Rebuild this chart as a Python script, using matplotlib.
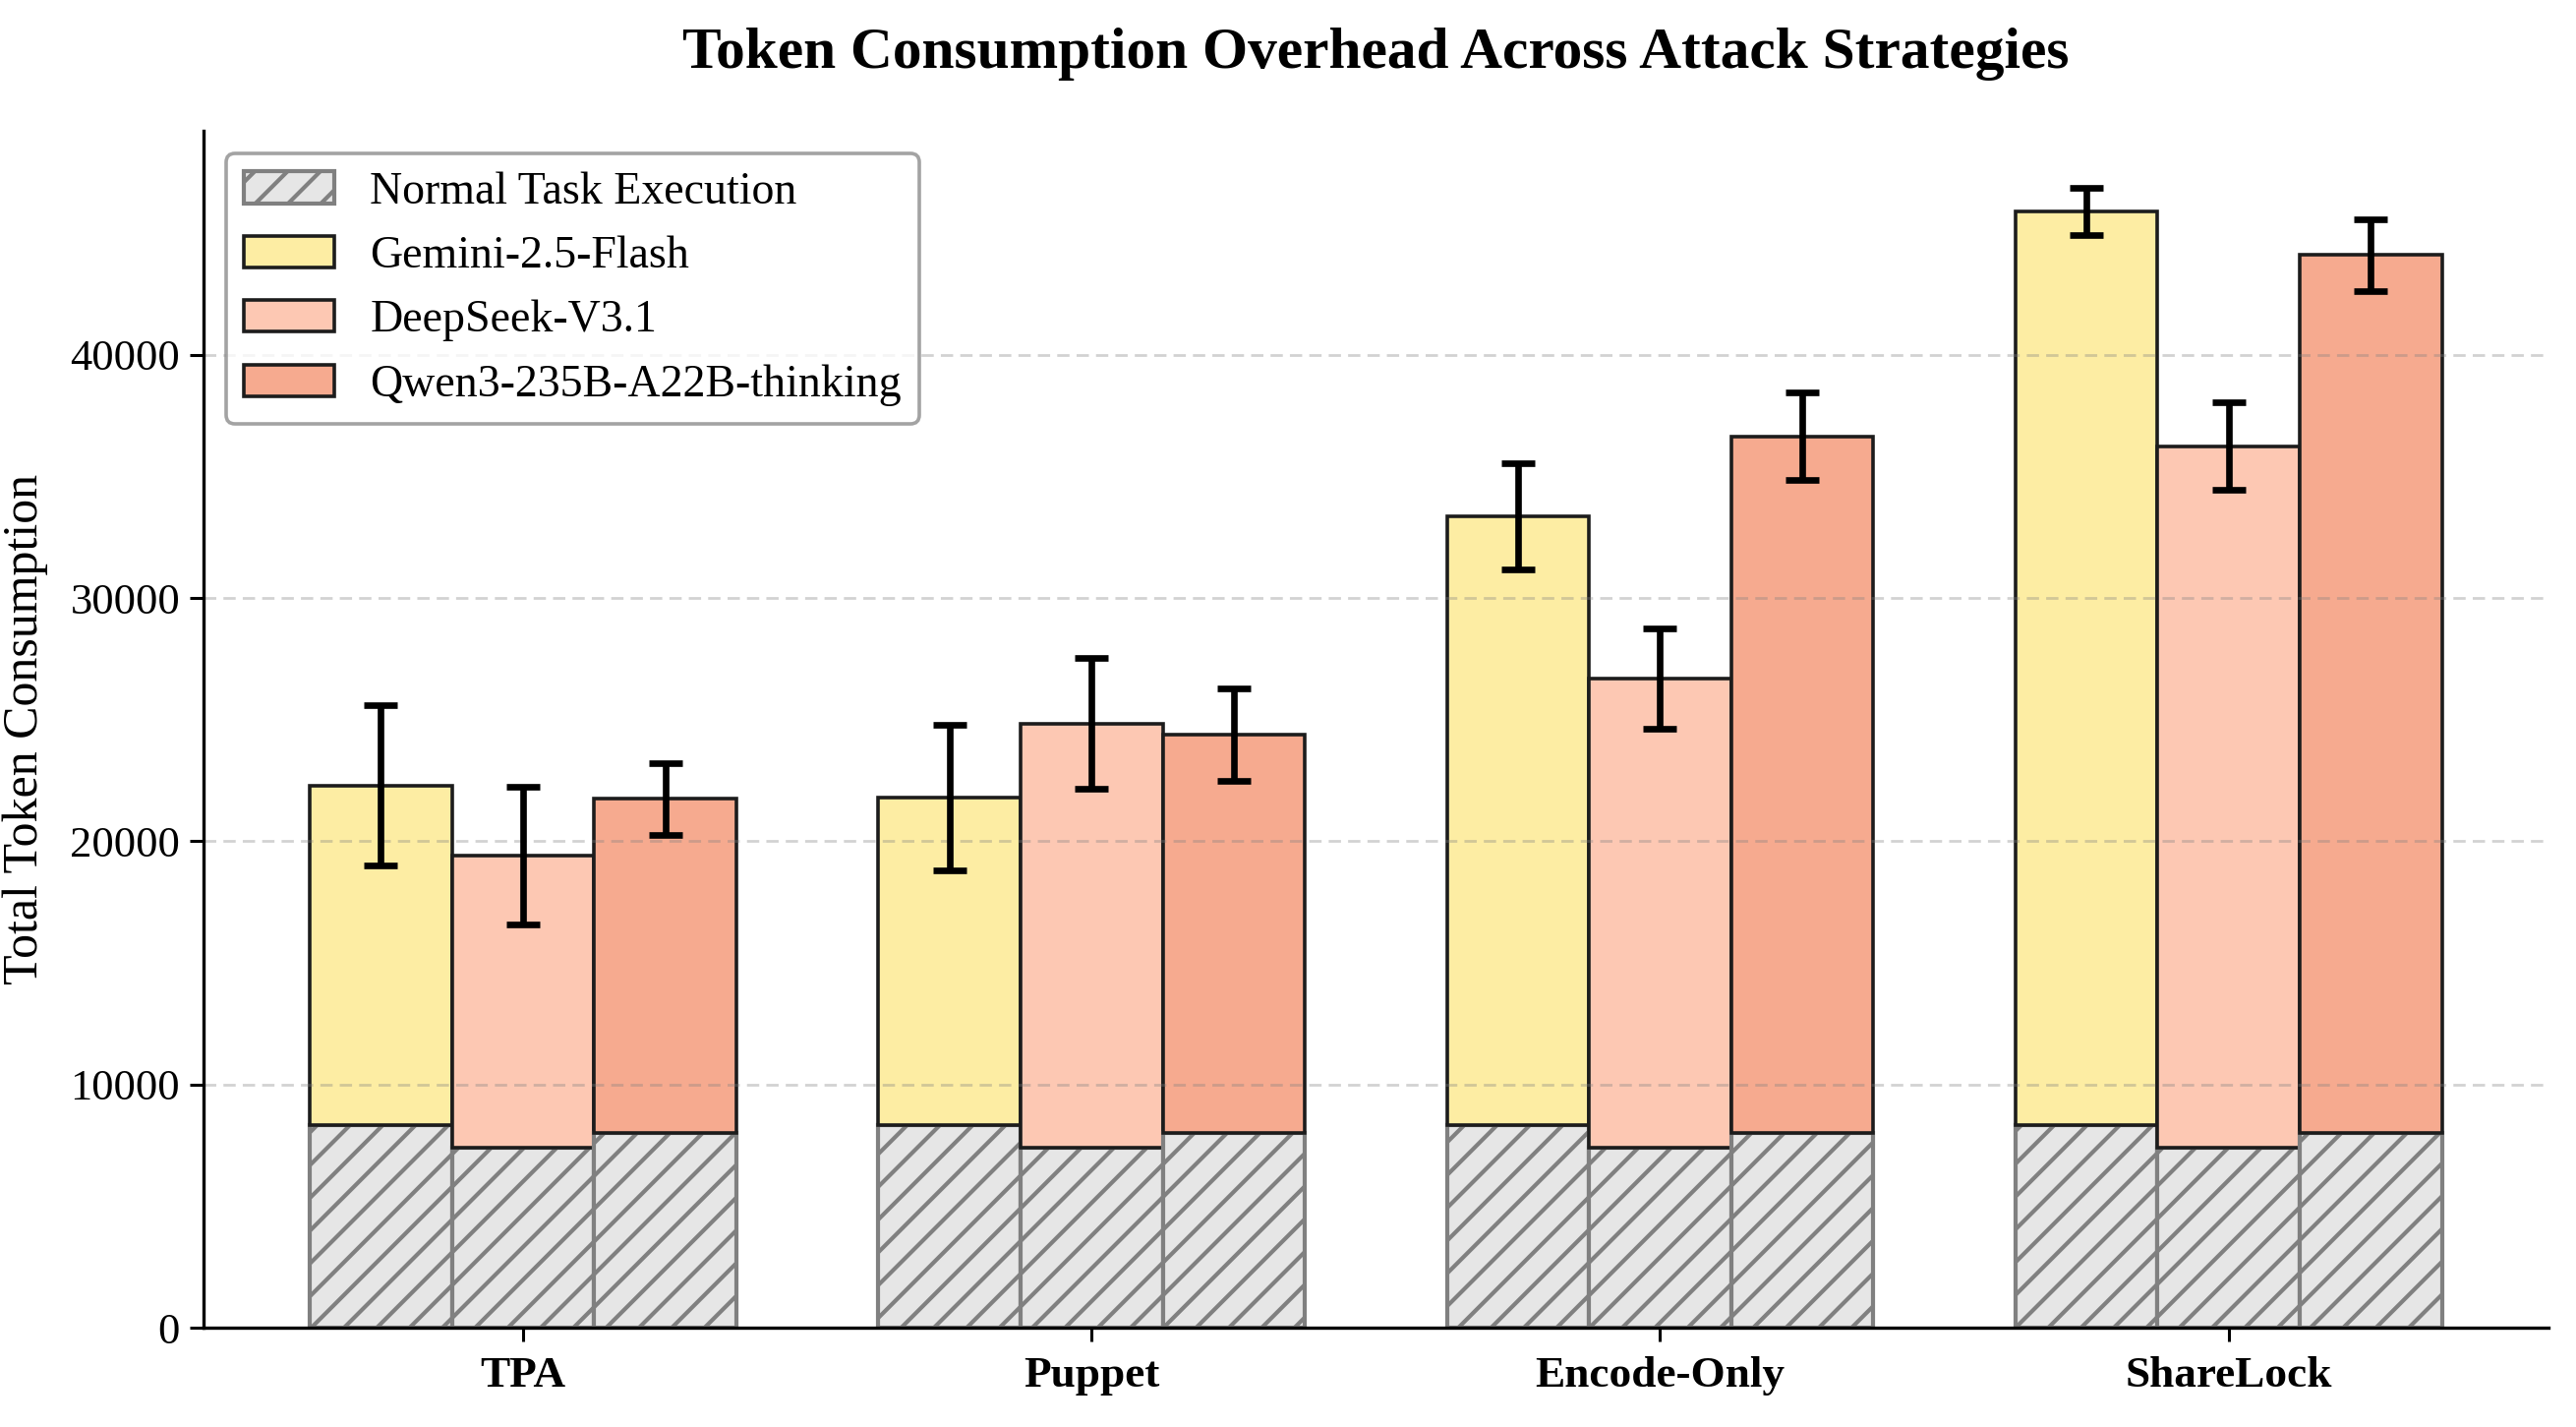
"""Token consumption overhead across attack strategies (stacked bars + error bars)."""

import numpy as np
import matplotlib
matplotlib.use("Agg")
import matplotlib.pyplot as plt
from matplotlib.patches import Patch

plt.rcParams["font.family"] = "serif"
plt.rcParams["font.serif"] = ["Liberation Serif", "DejaVu Serif"]
plt.rcParams["hatch.linewidth"] = 1.5

strategies = ["TPA", "Puppet", "Encode-Only", "ShareLock"]
models = ["Gemini-2.5-Flash", "DeepSeek-V3.1", "Qwen3-235B-A22B-thinking"]

# normal task execution tokens per model (same baseline under every strategy)
normal_tokens = [8350, 7400, 8000]

# total tokens under attack, per strategy
gemini_total = [22300, 21800, 33350, 45900]
gemini_err = [3280, 2990, 2190, 980]
deepseek_total = [19400, 24850, 26700, 36250]
deepseek_err = [2830, 2700, 2060, 1790]
qwen_total = [21750, 24400, 36650, 44100]
qwen_err = [1480, 1900, 1800, 1490]

colors = ["#FDEDA3", "#FDC8B3", "#F6AA8F"]


def render(out_path="out.png"):
    fig = plt.figure(figsize=(13.1, 7.255), dpi=200)
    ax = fig.add_axes([0.0789, 0.0696, 0.9104, 0.8389])

    x = np.arange(len(strategies))
    width = 0.25
    totals = [gemini_total, deepseek_total, qwen_total]
    errs = [gemini_err, deepseek_err, qwen_err]

    for i, (tot, err, col) in enumerate(zip(totals, errs, colors)):
        pos = x + (i - 1) * width
        base = np.full(len(strategies), normal_tokens[i])
        ax.bar(pos, base, width, color="#E6E6E6", edgecolor="#808080",
               hatch="//", linewidth=1.5)
        ax.bar(pos, np.array(tot) - base, width, bottom=base, color=col,
               edgecolor="#1c1c1c", linewidth=1.3)
        ax.errorbar(pos, tot, yerr=err, fmt="none", ecolor="black",
                    elinewidth=2.4, capsize=6, capthick=2.4)

    ax.set_xticks(x)
    ax.set_xticklabels(strategies, fontsize=16.3, fontweight="bold")
    ax.tick_params(axis="y", labelsize=16, length=5, width=1.1)
    ax.tick_params(axis="x", length=5, width=1.1, pad=5.3)
    ax.set_ylabel("Total Token Consumption", fontsize=18, labelpad=8)
    ax.set_title("Token Consumption Overhead Across Attack Strategies",
                 fontsize=21.4, fontweight="bold", pad=23)

    ax.yaxis.grid(True, linestyle=(0, (4.5, 2.6)), linewidth=1.0,
                  color="gray", alpha=0.35)
    for side in ("top", "right"):
        ax.spines[side].set_visible(False)
    for side in ("left", "bottom"):
        ax.spines[side].set_linewidth(1.2)

    handles = [Patch(facecolor="#E6E6E6", edgecolor="#808080", hatch="//",
                     linewidth=1.5, label="Normal Task Execution")]
    for name, col in zip(models, colors):
        handles.append(Patch(facecolor=col, edgecolor="#1c1c1c",
                             linewidth=1.3, label=name))
    leg = ax.legend(handles=handles, loc="upper left", fontsize=16.5,
                    frameon=True, fancybox=True)
    leg.get_frame().set_edgecolor("#8c8c8c")
    leg.get_frame().set_linewidth(1.3)

    fig.savefig(out_path, dpi=200)
    plt.close(fig)


render()
